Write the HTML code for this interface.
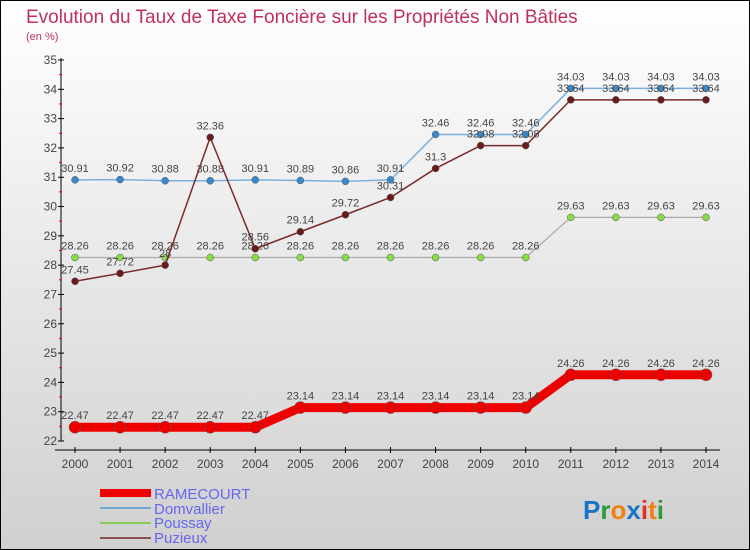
<!DOCTYPE html>
<html><head><meta charset="utf-8"><style>
body{margin:0}
svg{display:block;font-family:"Liberation Sans",sans-serif}
</style></head><body>
<svg width="750" height="550" viewBox="0 0 750 550">
<defs><linearGradient id="bg" x1="0" y1="0" x2="0" y2="1"><stop offset="0" stop-color="#ffffff"/><stop offset="1" stop-color="#d0d0d0"/></linearGradient></defs>
<rect x="0.5" y="0.5" width="749" height="549" fill="url(#bg)" stroke="#000"/>
<text x="26" y="23" font-size="19" fill="#c0305a">Evolution du Taux de Taxe Foncière sur les Propriétés Non Bâties</text>
<text x="26" y="40" font-size="11" fill="#c0305a">(en %)</text>
<g id="axes"></g>
<g id="series"></g>
<g id="legend" font-size="15" fill="#6666ee">
<rect x="100" y="489" width="51" height="8" fill="#ee0000"/>
<text x="154" y="499">RAMECOURT</text>
<rect x="100" y="507" width="51" height="2" fill="#6fa8d0"/>
<text x="154" y="514">Domvallier</text>
<rect x="100" y="522" width="51" height="2" fill="#88cc55"/>
<text x="154" y="528">Poussay</text>
<rect x="100" y="537" width="51" height="2" fill="#8b5050"/>
<text x="154" y="543">Puzieux</text>
</g>
<text x="583" y="519" font-size="26" font-weight="bold"><tspan fill="#1a73c8">P</tspan><tspan fill="#2e9a3a">r</tspan><tspan fill="#f08010">o</tspan><tspan fill="#1a73c8">x</tspan><tspan fill="#e03020">i</tspan><tspan fill="#f08010">t</tspan><tspan fill="#2e9a3a">i</tspan></text>
</svg>
<script>
const years=[2000,2001,2002,2003,2004,2005,2006,2007,2008,2009,2010,2011,2012,2013,2014];
const ramecourt=[22.47,22.47,22.47,22.47,22.47,23.14,23.14,23.14,23.14,23.14,23.14,24.26,24.26,24.26,24.26];
const domvallier=[30.91,30.92,30.88,30.88,30.91,30.89,30.86,30.91,32.46,32.46,32.46,34.03,34.03,34.03,34.03];
const poussay=[28.26,28.26,28.26,28.26,28.26,28.26,28.26,28.26,28.26,28.26,28.26,29.63,29.63,29.63,29.63];
const puzieux=[27.45,27.72,28,32.36,28.56,29.14,29.72,30.31,31.3,32.08,32.08,33.64,33.64,33.64,33.64];
const yTicks=[22,23,24,25,26,27,28,29,30,31,32,33,34,35];
const NS="http://www.w3.org/2000/svg";
const X=i=>75+i*(706-75)/(years.length-1);
const Y=v=>441-(v-22)*(441-60)/13;
function mk(p,t,a){const e=document.createElementNS(NS,t);for(const k in a)e.setAttribute(k,a[k]);p.appendChild(e);return e;}
const ax=document.getElementById('axes');
let yl=mk(ax,'line',{x1:61,y1:58,x2:61,y2:441,stroke:'#000'});


let xl=mk(ax,'line',{x1:55,y1:450,x2:720,y2:450,stroke:'#000'});


yTicks.forEach(v=>{
 mk(ax,'line',{x1:58,x2:64,y1:Y(v),y2:Y(v),stroke:'#000'});
 if(v<35)mk(ax,'line',{x1:59,x2:62,y1:Y(v+0.5),y2:Y(v+0.5),stroke:'#e00'});
 const t=mk(ax,'text',{x:57,y:Y(v)+4,'text-anchor':'end','font-size':12,fill:'#444'});
 t.textContent=v;
 
 
});
years.forEach((y,i)=>{
 mk(ax,'line',{x1:X(i),x2:X(i),y1:447,y2:453,stroke:'#000'});
 const t=mk(ax,'text',{x:X(i),y:468,'text-anchor':'middle','font-size':12,fill:'#444'});
 t.textContent=y;
 
 
});
const sg=document.getElementById('series');
function draw(name,data,color,w,r,dot){
 const g=mk(sg,'g',{});
 
 
 const pl=mk(g,'polyline',{points:data.map((v,i)=>X(i)+','+Y(v)).join(' '),fill:'none',stroke:color,'stroke-width':w,'stroke-linejoin':'round'});
 
 
 data.forEach((v,i)=>{
  const c=mk(g,'circle',{cx:X(i),cy:Y(v),r:r,fill:dot,stroke:'#555','stroke-width':0.5});
  
  
  const t=mk(g,'text',{x:X(i),y:Y(v)-8,'text-anchor':'middle','font-size':11,fill:'#444'});
  t.textContent=v;
  
  
 });
}
draw('poussay',poussay,'#aaaaaa',1.2,3.5,'#88dd44');
draw('domvallier',domvallier,'#7ab0dd',1.5,3.5,'#3a88cc');
draw('puzieux',puzieux,'#7a2a2a',1.5,3.5,'#6a1a1a');
draw('ramecourt',ramecourt,'#ee0000',9,6,'#ee0000');
</script>
</body></html>
